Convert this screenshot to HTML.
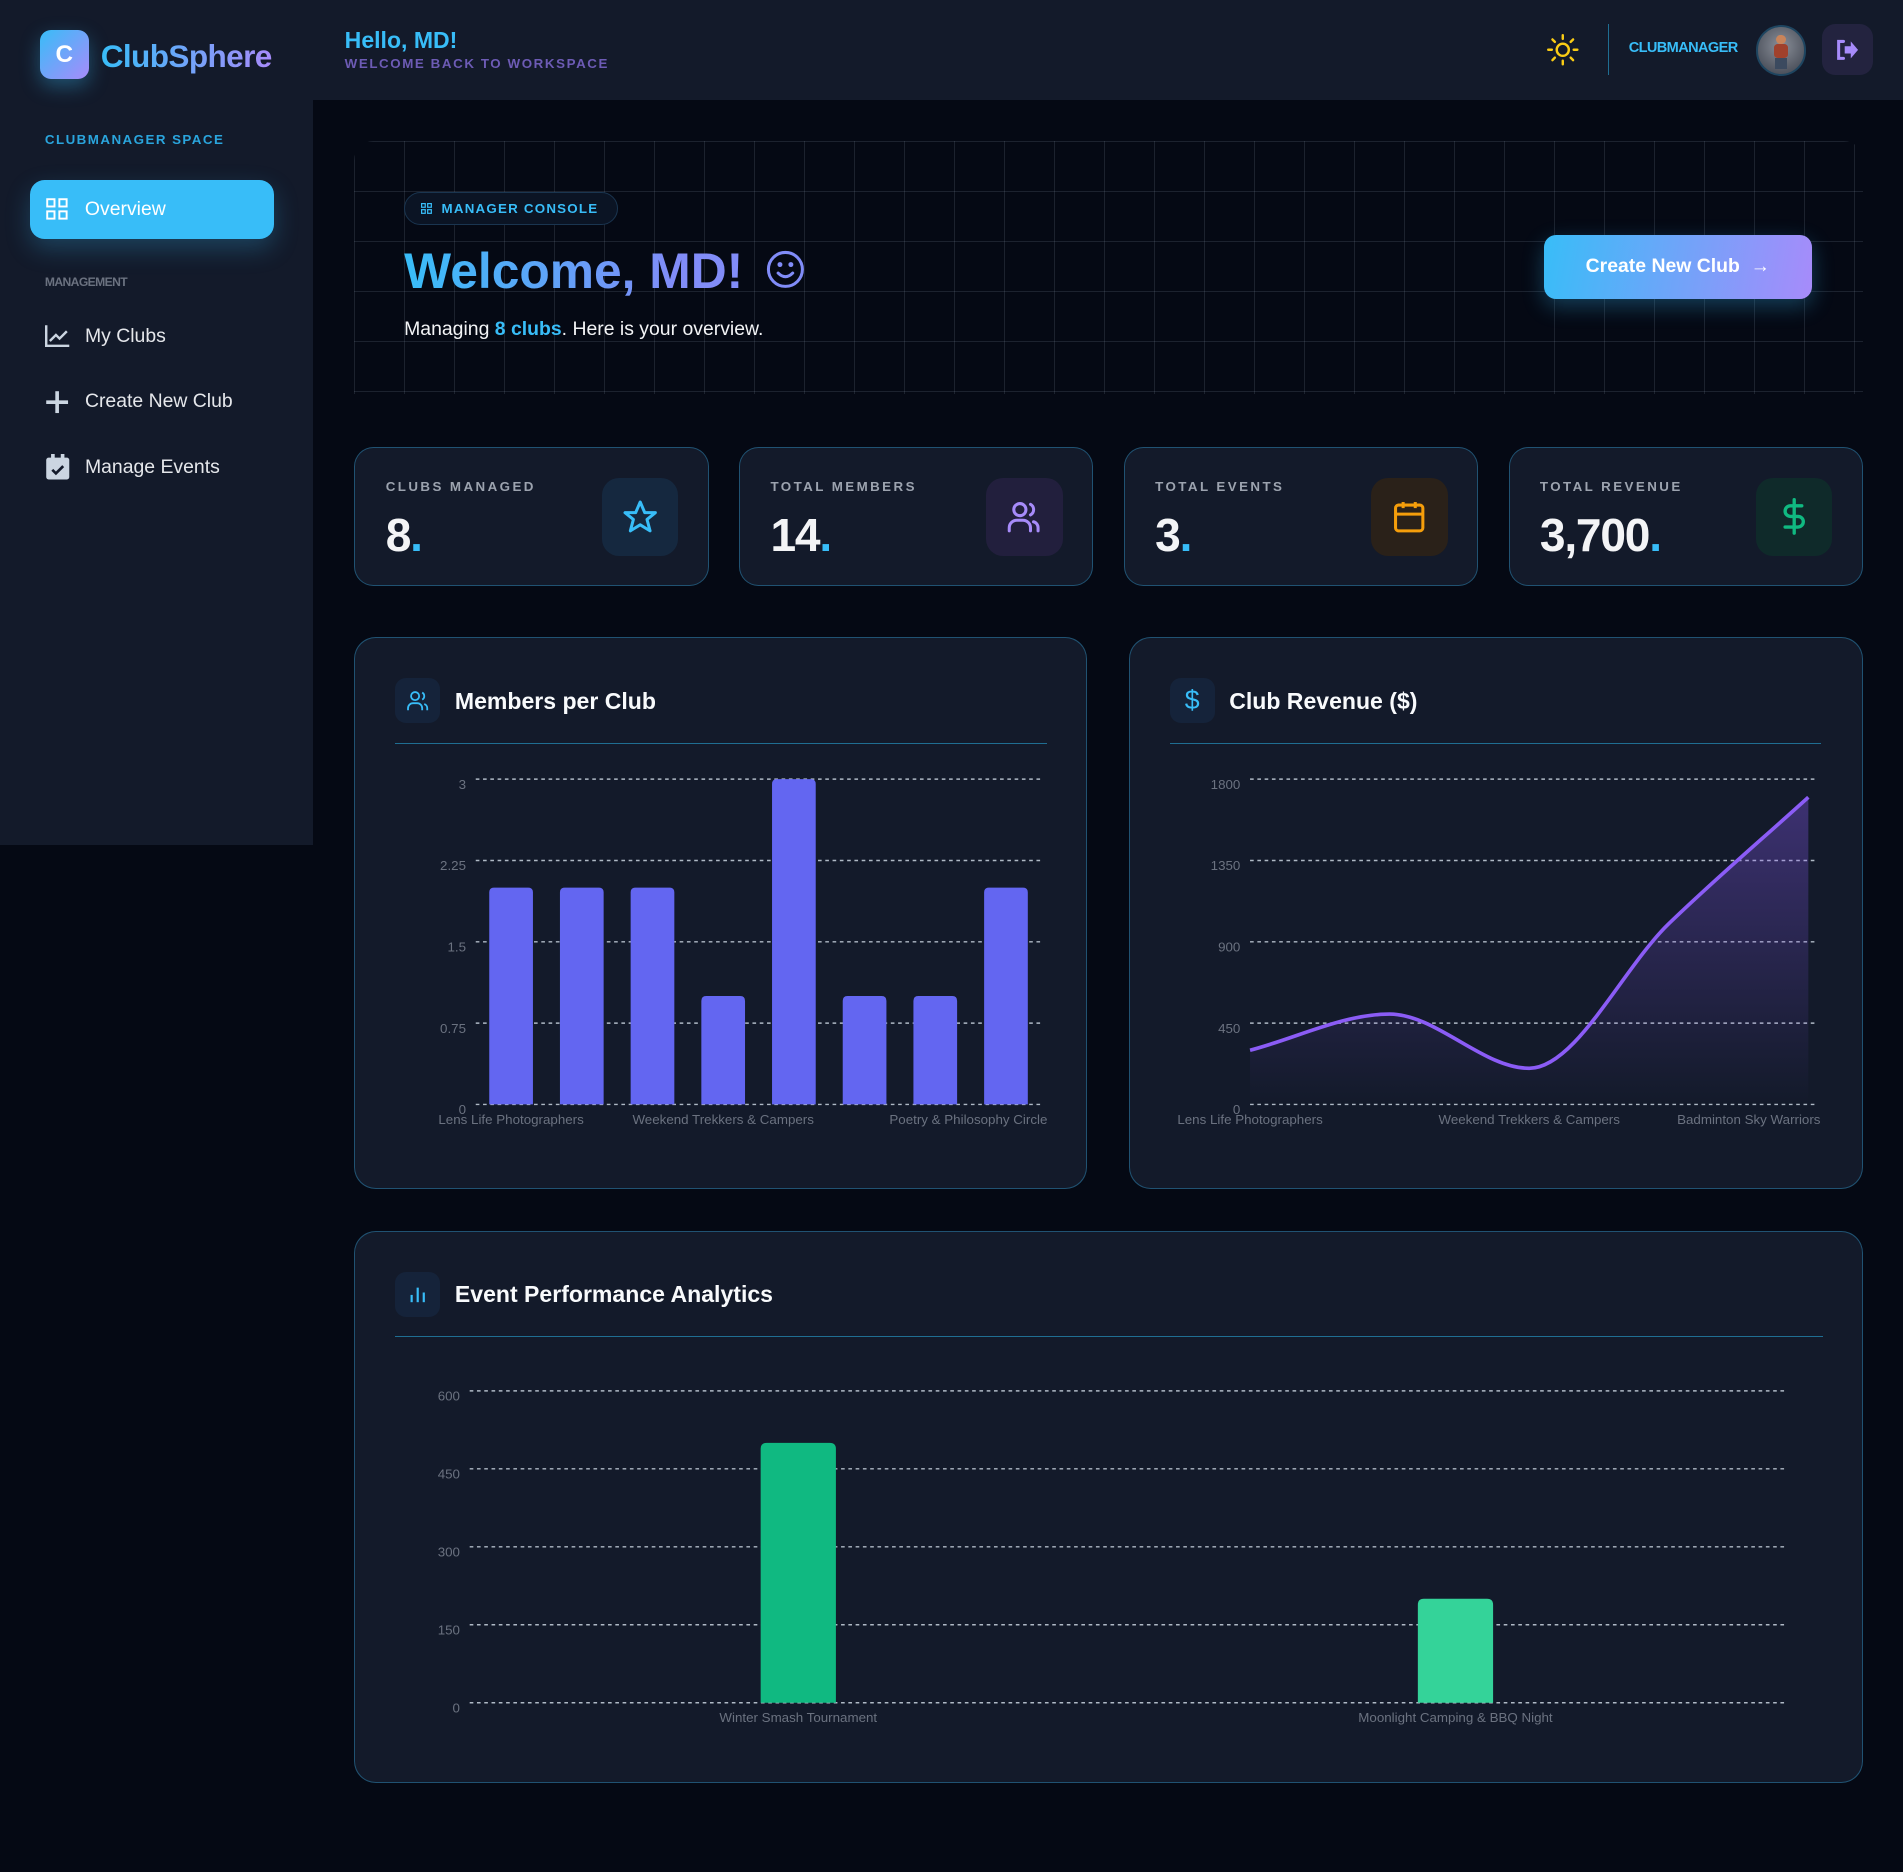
<!DOCTYPE html>
<html><head><meta charset="utf-8"><style>
html,body{margin:0;padding:0;background:#050914;}
body{zoom:1.21365;width:1568px;height:1542px;position:relative;overflow:hidden;font-family:"Liberation Sans",Arial,sans-serif;color:#e5e7eb;}
.abs{position:absolute;}
.card{position:absolute;background:#131a2a;border:1px solid rgba(56,189,248,.35);border-radius:16px;box-sizing:border-box;}
.lbl{position:absolute;font-size:11px;font-weight:bold;letter-spacing:2px;color:#9ca3af;}
.val{position:absolute;font-size:38px;font-weight:bold;color:#f3f4f6;letter-spacing:-1px;}
.val span{color:#38bdf8;}
.ibox{position:absolute;width:63px;height:64px;border-radius:14px;display:flex;align-items:center;justify-content:center;}
.ctitle{position:absolute;font-size:19px;font-weight:bold;color:#f8fafc;}
.chbox{position:absolute;width:37px;height:37px;border-radius:9px;background:#15233a;display:flex;align-items:center;justify-content:center;}
.div{position:absolute;height:1px;background:#1f6e92;}
.nav{position:absolute;left:37px;font-size:16px;color:#e5e7eb;display:flex;align-items:center;gap:12px;}
svg.ov{position:absolute;left:0;top:0;pointer-events:none;}
</style></head><body>
<div class="abs" style="left:0;top:0;width:1568px;height:82px;background:#131a2a;"></div>
<div class="abs" style="left:0;top:82px;width:258px;height:614px;background:#131a2a;"></div>

<div class="abs" style="left:33px;top:25px;width:40px;height:40px;border-radius:9px;background:linear-gradient(135deg,#38bdf8,#a78bfa);color:#fff;font-weight:bold;font-size:20px;display:flex;align-items:center;justify-content:center;box-shadow:0 6px 16px rgba(56,189,248,.35);">C</div>
<div class="abs" style="left:83px;top:31px;font-size:26px;font-weight:bold;letter-spacing:-0.5px;background:linear-gradient(90deg,#38bdf8,#a78bfa);-webkit-background-clip:text;color:transparent;">ClubSphere</div>
<div class="abs" style="left:284px;top:22px;font-size:19px;font-weight:bold;color:#38bdf8;">Hello, MD!</div>
<div class="abs" style="left:284px;top:46px;font-size:11px;font-weight:bold;color:#6d5bb5;letter-spacing:1.3px;">WELCOME BACK TO WORKSPACE</div>

<svg class="abs" style="left:1275px;top:28px" width="26" height="26" viewBox="0 0 26 26"><circle cx="13" cy="13" r="5" fill="none" stroke="#facc15" stroke-width="2"/><g stroke="#facc15" stroke-width="2" stroke-linecap="round"><line x1="13" y1="1" x2="13" y2="4"/><line x1="13" y1="22" x2="13" y2="25"/><line x1="1" y1="13" x2="4" y2="13"/><line x1="22" y1="13" x2="25" y2="13"/><line x1="4.5" y1="4.5" x2="6.5" y2="6.5"/><line x1="19.5" y1="19.5" x2="21.5" y2="21.5"/><line x1="4.5" y1="21.5" x2="6.5" y2="19.5"/><line x1="19.5" y1="6.5" x2="21.5" y2="4.5"/></g></svg>
<div class="abs" style="left:1325px;top:20px;width:1px;height:42px;background:#1f6e92;"></div>
<div class="abs" style="left:1342px;top:33px;font-size:12px;font-weight:bold;color:#38bdf8;letter-spacing:-0.5px;">CLUBMANAGER</div>
<div class="abs" style="left:1447px;top:21px;width:38px;height:38px;border-radius:50%;background:radial-gradient(circle at 50% 40%,#8a8f99,#3a3f4a);border:2px solid #1e4560;overflow:hidden;"><div style="position:absolute;left:15px;top:6px;width:8px;height:8px;border-radius:50%;background:#c9845a;"></div><div style="position:absolute;left:13px;top:14px;width:12px;height:11px;background:#a0412c;border-radius:3px;"></div><div style="position:absolute;left:14px;top:25px;width:10px;height:9px;background:#3b4a5f;"></div></div>
<div class="abs" style="left:1501px;top:20px;width:42px;height:42px;border-radius:11px;background:#23233f;display:flex;align-items:center;justify-content:center;"><svg width="20" height="18" viewBox="0 0 20 18"><path d="M7 2H3v14h4" fill="none" stroke="#a78bfa" stroke-width="2.5" stroke-linecap="round"/><path d="M8 6h5V2l6 7-6 7v-4H8z" fill="#a78bfa"/></svg></div>

<div class="abs" style="left:37px;top:109px;font-size:11px;font-weight:bold;color:#2aa5dd;letter-spacing:1.2px;">CLUBMANAGER SPACE</div>
<div class="abs" style="left:25px;top:148px;width:201px;height:49px;border-radius:12px;background:#38bdf8;box-shadow:0 8px 20px rgba(56,189,248,.25);display:flex;align-items:center;color:#fff;font-size:16px;"><svg style="margin:0 14px 0 13px" width="18" height="18" viewBox="0 0 18 18" fill="none" stroke="#fff" stroke-width="1.6"><rect x="1" y="1" width="6" height="6"/><rect x="11" y="1" width="6" height="6"/><rect x="1" y="11" width="6" height="6"/><rect x="11" y="11" width="6" height="6"/></svg>Overview</div>
<div class="abs" style="left:37px;top:227px;font-size:10px;font-weight:bold;color:#6b7280;letter-spacing:-0.5px;">MANAGEMENT</div>
<div class="nav" style="top:267px;"><svg width="21" height="20" viewBox="0 0 21 20" fill="none" stroke="#cbd5e1" stroke-width="2"><path d="M1 1v17h19"/><path d="M4 14l5-5 3 3 6-6"/></svg><span>My Clubs</span></div>
<div class="nav" style="top:321px;"><svg width="21" height="20" viewBox="0 0 21 20" stroke="#cbd5e1" stroke-width="3"><line x1="10" y1="1" x2="10" y2="19"/><line x1="1" y1="10" x2="19" y2="10"/></svg><span>Create New Club</span></div>
<div class="nav" style="top:374px;"><svg width="21" height="22" viewBox="0 0 21 22"><rect x="1" y="3" width="19" height="18" rx="2" fill="#cbd5e1"/><rect x="5" y="0" width="3" height="5" fill="#cbd5e1"/><rect x="13" y="0" width="3" height="5" fill="#cbd5e1"/><path d="M6 13l3 3 6-6" fill="none" stroke="#131a2a" stroke-width="2.2"/></svg><span>Manage Events</span></div>

<div class="abs" style="left:292px;top:116px;width:1243px;height:209px;border-radius:16px 16px 0 0;background-color:#050914;background-image:linear-gradient(rgba(148,163,184,.16) 1px,transparent 1px),linear-gradient(90deg,rgba(148,163,184,.16) 1px,transparent 1px);background-size:41.2px 41.2px;"></div>
<div class="abs" style="left:333px;top:158px;width:176px;height:27px;border-radius:14px;border:1px solid #1a3550;background:#0b1424;box-sizing:border-box;display:flex;align-items:center;font-size:11px;font-weight:bold;color:#38bdf8;letter-spacing:1px;"><svg style="margin:0 8px 0 13px" width="9" height="9" viewBox="0 0 9 9" fill="none" stroke="#38bdf8"><rect x=".5" y=".5" width="3" height="3"/><rect x="5.5" y=".5" width="3" height="3"/><rect x=".5" y="5.5" width="3" height="3"/><rect x="5.5" y="5.5" width="3" height="3"/></svg>MANAGER CONSOLE</div>
<div class="abs" style="left:333px;top:199px;font-size:41px;font-weight:bold;background:linear-gradient(90deg,#38bdf8,#818cf8 80%);-webkit-background-clip:text;color:transparent;">Welcome, MD!</div>
<svg class="abs" style="left:631px;top:206px" width="32" height="32" viewBox="0 0 32 32" fill="none" stroke="#818cf8" stroke-width="2.5"><circle cx="16" cy="16" r="14"/><path d="M10 19q6 6 12 0" stroke-linecap="round"/><circle cx="11.5" cy="12" r=".8" fill="#818cf8"/><circle cx="20.5" cy="12" r=".8" fill="#818cf8"/></svg>
<div class="abs" style="left:333px;top:262px;font-size:16px;color:#f3f4f6;">Managing <span style="color:#38bdf8;font-weight:bold">8 clubs</span>. Here is your overview.</div>
<div class="abs" style="left:1272px;top:194px;width:221px;height:52px;border-radius:10px;background:linear-gradient(100deg,#38bdf8,#a78bfa);box-shadow:0 6px 18px rgba(56,189,248,.3);display:flex;align-items:center;justify-content:center;color:#fff;font-weight:bold;font-size:16px;">Create New Club&nbsp;&nbsp;→</div>

<div class="card" style="left:292px;top:368px;width:292px;height:115px;"><div class="lbl" style="left:25px;top:26px">CLUBS MANAGED</div><div class="val" style="left:25px;top:50px">8<span>.</span></div><div class="ibox" style="left:203px;top:25px;background:#15283f"><svg width="30" height="30" viewBox="0 0 24 24" fill="none" stroke="#38bdf8" stroke-width="2" stroke-linejoin="round"><path d="M12 2l3 7h7l-5.5 4.5 2 7.5L12 17l-6.5 4 2-7.5L2 9h7z"/></svg></div></div>
<div class="card" style="left:609px;top:368px;width:292px;height:115px;"><div class="lbl" style="left:25px;top:26px">TOTAL MEMBERS</div><div class="val" style="left:25px;top:50px">14<span>.</span></div><div class="ibox" style="left:203px;top:25px;background:#221f3d"><svg width="32" height="30" viewBox="0 0 24 24" fill="none" stroke="#a78bfa" stroke-width="2" stroke-linecap="round"><circle cx="9" cy="7" r="4"/><path d="M2 21v-2a5 5 0 0 1 5-5h4a5 5 0 0 1 5 5v2"/><path d="M16 3.5a4 4 0 0 1 0 7"/><path d="M21 21v-2a4 4 0 0 0-3-4"/></svg></div></div>
<div class="card" style="left:926px;top:368px;width:292px;height:115px;"><div class="lbl" style="left:25px;top:26px">TOTAL EVENTS</div><div class="val" style="left:25px;top:50px">3<span>.</span></div><div class="ibox" style="left:203px;top:25px;background:#2a2119"><svg width="30" height="30" viewBox="0 0 24 24" fill="none" stroke="#f59e0b" stroke-width="2"><rect x="3" y="4" width="18" height="17" rx="2"/><line x1="3" y1="10" x2="21" y2="10"/><line x1="8" y1="2" x2="8" y2="6"/><line x1="16" y1="2" x2="16" y2="6"/></svg></div></div>
<div class="card" style="left:1243px;top:368px;width:292px;height:115px;"><div class="lbl" style="left:25px;top:26px">TOTAL REVENUE</div><div class="val" style="left:25px;top:50px">3,700<span>.</span></div><div class="ibox" style="left:203px;top:25px;background:#0f2a2a"><svg width="30" height="32" viewBox="0 0 24 24" fill="none" stroke="#10b981" stroke-width="2.2" stroke-linecap="round"><line x1="12" y1="1" x2="12" y2="23"/><path d="M17 5H9.5a3.5 3.5 0 0 0 0 7h5a3.5 3.5 0 0 1 0 7H6"/></svg></div></div>

<div class="card" style="left:292px;top:525px;width:604px;height:455px;border-radius:18px;"><div class="chbox" style="left:33px;top:33px"><svg width="20" height="20" viewBox="0 0 24 24" fill="none" stroke="#38bdf8" stroke-width="1.8"><circle cx="9" cy="7" r="4"/><path d="M2 21v-2a5 5 0 0 1 5-5h4a5 5 0 0 1 5 5v2"/><path d="M16 3.5a4 4 0 0 1 0 7"/><path d="M21 21v-2a4 4 0 0 0-3-4"/></svg></div><div class="ctitle" style="left:82px;top:41px">Members per Club</div><div class="div" style="left:33px;top:86px;width:537px"></div></div>
<div class="card" style="left:930px;top:525px;width:605px;height:455px;border-radius:18px;"><div class="chbox" style="left:33px;top:33px"><span style="color:#38bdf8;font-size:22px">$</span></div><div class="ctitle" style="left:82px;top:41px">Club Revenue ($)</div><div class="div" style="left:33px;top:86px;width:537px"></div></div>
<div class="card" style="left:292px;top:1014px;width:1243px;height:455px;border-radius:18px;"><div class="chbox" style="left:33px;top:33px"><svg width="16" height="16" viewBox="0 0 16 16" stroke="#38bdf8" stroke-width="1.8"><line x1="3" y1="15" x2="3" y2="9"/><line x1="8" y1="15" x2="8" y2="3"/><line x1="13" y1="15" x2="13" y2="7"/></svg></div><div class="ctitle" style="left:82px;top:41px">Event Performance Analytics</div><div class="div" style="left:33px;top:86px;width:1176px"></div></div>

<svg class="ov" id="chart1" width="1568" height="1542"></svg>
<svg class="ov" id="chart2" width="1568" height="1542"></svg>
<svg class="ov" id="chart3" width="1568" height="1542"></svg>

<script>
const memberClubs=["Lens Life Photographers","Urban Sketchers","Code Crafters","Weekend Trekkers & Campers","Badminton Sky Warriors","Chess Masters","Book Lovers","Poetry & Philosophy Circle"];
const memberValues=[2,2,2,1,3,1,1,2];
const memberTicks=[0,0.75,1.5,2.25,3];
const memberShownLabels=[0,3,7];

const revenueClubs=["Lens Life Photographers","Urban Sketchers","Weekend Trekkers & Campers","Chess Masters","Badminton Sky Warriors"];
const revenueValues=[300,500,200,1000,1700];
const revenueTicks=[0,450,900,1350,1800];
const revenueShownLabels=[0,2,4];

const eventNames=["Winter Smash Tournament","Moonlight Camping & BBQ Night"];
const eventValues=[500,200];
const eventTicks=[0,150,300,450,600];
const eventColors=["#10b981","#34d399"];

const NS="http://www.w3.org/2000/svg";
function mk(svg,tag,attrs,text){const e=document.createElementNS(NS,tag);for(const k in attrs)e.setAttribute(k,attrs[k]);if(text!==undefined)e.textContent=text;svg.appendChild(e);return e;}
function grid(svg,ticks,yf,x0,x1,lx){ticks.forEach(t=>{const y=yf(t);
const g=mk(svg,'line',{x1:x0,x2:x1,y1:y,y2:y,stroke:'#cbd5e1','stroke-dasharray':'3 3','stroke-width':1.2,opacity:.85});


const tl=mk(svg,'text',{x:lx,y:y+8,'text-anchor':'end','font-size':11,fill:'#6b7280','font-family':'Liberation Sans, sans-serif'},String(t));

});}

// Chart 1
(function(){const s=document.getElementById('chart1');
const x0=392,x1=858,yb=910,yt=642,max=3;const y=v=>yb-(yb-yt)*v/max;const band=(x1-x0)/memberValues.length;
grid(s,memberTicks,y,x0,x1,384);
memberValues.forEach((v,i)=>{const cx=x0+band*(i+0.5);
const r=mk(s,'path',{d:`M${cx-18},${yb}V${y(v)+4}q0,-4 4,-4h28q4,0 4,4V${yb}Z`,fill:'#6366f1'});

});
memberShownLabels.forEach(i=>{let cx=x0+band*(i+0.5);let anchor='middle';if(i===memberValues.length-1){cx=863;anchor='end';}
const t=mk(s,'text',{x:cx,y:yb+16,'text-anchor':anchor,'font-size':11,fill:'#6b7280','font-family':'Liberation Sans, sans-serif'},memberClubs[i]);

});})();

// Chart 2
(function(){const s=document.getElementById('chart2');
const x0=1030,x1=1495,yb=910,yt=642,max=1800;const y=v=>yb-(yb-yt)*v/max;const px0=1030,px1=1490;const n=revenueValues.length;const xs=revenueValues.map((v,i)=>px0+(px1-px0)*i/(n-1));const ys=revenueValues.map(y);
grid(s,revenueTicks,y,x0,x1,1022);
const defs=mk(s,'defs',{});const lg=mk(defs,'linearGradient',{id:'rg',x1:0,y1:0,x2:0,y2:1});mk(lg,'stop',{offset:'0%','stop-color':'#8b5cf6','stop-opacity':.35});mk(lg,'stop',{offset:'100%','stop-color':'#8b5cf6','stop-opacity':0});
const d=[],m=[];for(let i=0;i<n-1;i++)d.push((ys[i+1]-ys[i])/(xs[i+1]-xs[i]));
for(let i=0;i<n;i++){if(i===0)m.push(d[0]);else if(i===n-1)m.push(d[n-2]);else m.push(d[i-1]*d[i]<=0?0:2/(1/d[i-1]+1/d[i]));}
let p=`M${xs[0]},${ys[0]}`;for(let i=0;i<n-1;i++){const h=(xs[i+1]-xs[i])/3;p+=`C${xs[i]+h},${ys[i]+m[i]*h} ${xs[i+1]-h},${ys[i+1]-m[i+1]*h} ${xs[i+1]},${ys[i+1]}`;}
const a=mk(s,'path',{d:p+`L${xs[n-1]},${yb}L${xs[0]},${yb}Z`,fill:'url(#rg)'});


const l=mk(s,'path',{d:p,fill:'none',stroke:'#8b5cf6','stroke-width':3});


revenueShownLabels.forEach(i=>{let cx=xs[i];let anchor='middle';if(i===n-1){cx=1500;anchor='end';}
const t=mk(s,'text',{x:cx,y:yb+16,'text-anchor':anchor,'font-size':11,fill:'#6b7280','font-family':'Liberation Sans, sans-serif'},revenueClubs[i]);

});})();

// Chart 3
(function(){const s=document.getElementById('chart3');
const x0=387,x1=1470,yb=1403,yt=1146,max=600;const y=v=>yb-(yb-yt)*v/max;const band=(x1-x0)/eventValues.length;
grid(s,eventTicks,y,x0,x1,379);
eventValues.forEach((v,i)=>{const cx=x0+band*(i+0.5);
const r=mk(s,'path',{d:`M${cx-31},${yb}V${y(v)+5}q0,-5 5,-5h52q5,0 5,5V${yb}Z`,fill:eventColors[i%eventColors.length]});


const t=mk(s,'text',{x:cx,y:yb+16,'text-anchor':'middle','font-size':11,fill:'#6b7280','font-family':'Liberation Sans, sans-serif'},eventNames[i]);

});})();
</script>
</body></html>
